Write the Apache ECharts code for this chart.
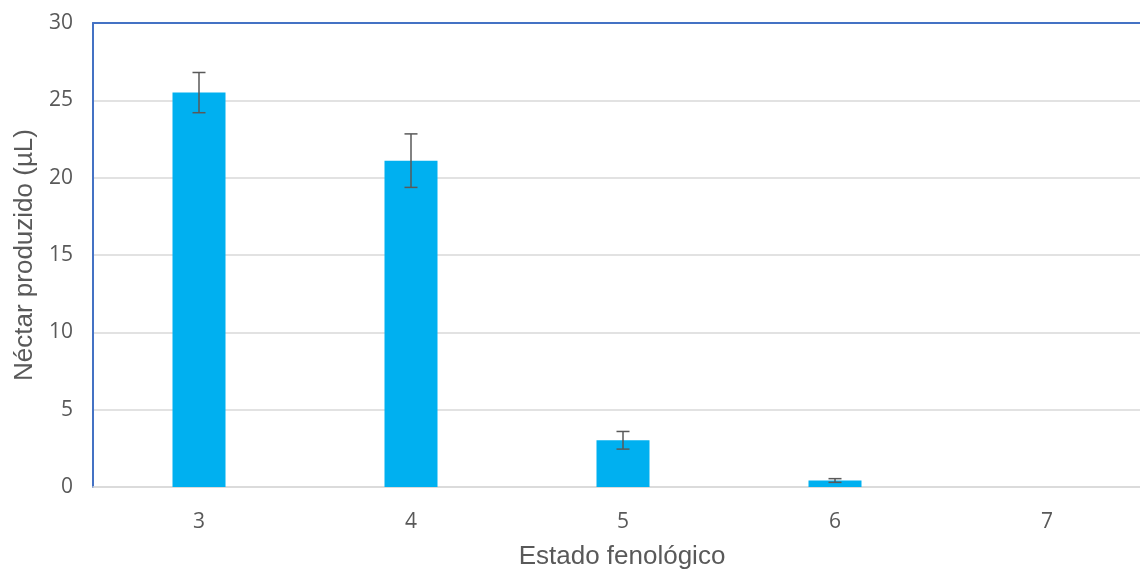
<!DOCTYPE html>
<html>
<head>
<meta charset="utf-8">
<script src="https://cdn.jsdelivr.net/npm/echarts@6/dist/echarts.min.js"></script>
<style>
html,body{margin:0;padding:0;background:#fff;overflow:hidden;width:1140px;height:569px;}
#chart{width:1153px;height:569px;}
</style>
</head>
<body>
<div id="chart"></div>
<script>
const categories = ['3', '4', '5', '6', '7'];
const nectarMeans = [25.5, 21.1, 3.02, 0.42, 0];
const nectarErrors = [1.3, 1.73, 0.57, 0.12, 0];
const yTicks = [0, 5, 10, 15, 20, 25, 30];

const chart = echarts.init(document.getElementById('chart'));
const errData = categories.map((c, i) => [i, nectarMeans[i] - nectarErrors[i], nectarMeans[i] + nectarErrors[i], nectarErrors[i]]);

chart.setOption({
  animation: false,
  backgroundColor: '#ffffff',
  grid: { left: 93, top: 23, right: 0, bottom: 82, containLabel: false },
  title: {
    text: 'Estado fenológico',
    left: 617, top: 539, textAlign: 'center',
    textStyle: { fontFamily: 'Liberation Sans', fontSize: 26, fontWeight: 'normal', color: '#595959' }
  },
  xAxis: [{
    type: 'category',
    data: categories,
    axisLine: { show: true, lineStyle: { color: '#d9d9d9', width: 1.5 } },
    axisTick: { show: false },
    axisLabel: { color: '#595959', fontFamily: 'Open Sans', fontSize: 21, margin: 25 },
    splitLine: { show: false }
  }, {
    type: 'category',
    position: 'top',
    data: categories,
    axisLine: { show: true, onZero: false, lineStyle: { color: '#4472C4', width: 2 } },
    axisTick: { show: false },
    axisLabel: { show: false }
  }],
  yAxis: {
    type: 'value',
    min: yTicks[0], max: yTicks[yTicks.length - 1], interval: 5,
    name: 'Néctar produzido (µL)',
    nameLocation: 'middle',
    nameGap: 55,
    nameTextStyle: { fontFamily: 'Liberation Sans', fontSize: 26, color: '#595959' },
    axisLine: { show: true, lineStyle: { color: '#4472C4', width: 2 } },
    axisTick: { show: false },
    axisLabel: { color: '#595959', fontFamily: 'Open Sans', fontSize: 21, margin: 20 },
    splitLine: { show: true, lineStyle: { color: '#d9d9d9', width: 1.5 } }
  },
  series: [{
    type: 'bar',
    data: nectarMeans,
    barWidth: 53,
    itemStyle: { color: '#00B0F0' },
    z: 2
  }, {
    type: 'custom',
    data: errData,
    z: 5,
    renderItem: function (params, api) {
      const err = api.value(3);
      if (!err) return null;
      const x = api.value(0);
      const lo = api.coord([x, api.value(1)]);
      const hi = api.coord([x, api.value(2)]);
      const w = 6.5;
      const style = { stroke: '#595959', lineWidth: 1.5 };
      return {
        type: 'group',
        children: [
          { type: 'line', shape: { x1: hi[0], y1: hi[1], x2: lo[0], y2: lo[1] }, style: style },
          { type: 'line', shape: { x1: hi[0] - w, y1: hi[1], x2: hi[0] + w, y2: hi[1] }, style: style },
          { type: 'line', shape: { x1: lo[0] - w, y1: lo[1], x2: lo[0] + w, y2: lo[1] }, style: style }
        ]
      };
    }
  }]
});
</script>
</body>
</html>
